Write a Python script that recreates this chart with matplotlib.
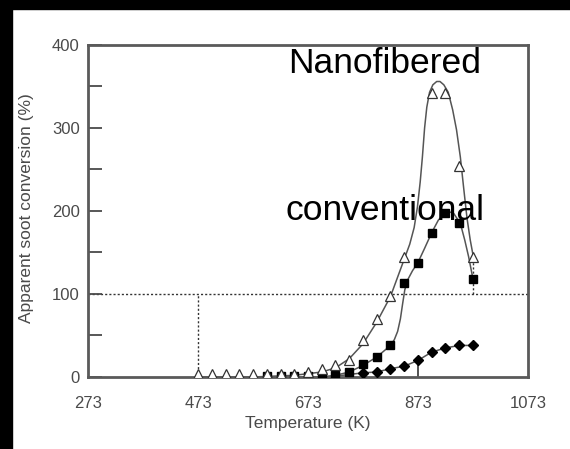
import matplotlib
matplotlib.use('Agg')
import matplotlib.pyplot as plt
from matplotlib.patches import Rectangle
from matplotlib.ticker import MultipleLocator

plt.rcParams['font.family'] = ['Liberation Sans', 'DejaVu Sans']

# --- dados ---
# nanofibered (triangulos abertos)
t_nano = [473, 498, 523, 548, 573, 598, 623, 648, 673, 698, 723, 748, 773, 798, 823, 848,
          898, 923, 948, 973]
y_nano = [3, 3, 3, 3, 3, 3, 3, 4, 6, 10, 14, 20, 45, 70, 97, 145,
          342, 342, 254, 145]
# curva ajustada
t_nano_fit = [473, 573, 648, 698, 723, 748, 773, 798, 823, 848, 858, 866, 872, 877, 881,
              885, 889, 894, 900, 907, 913, 920, 928, 936, 943, 950, 956, 962, 968, 975]
y_nano_fit = [0, 0, 2, 6, 11, 22, 40, 66, 97, 142, 160, 180, 205, 235, 265,
              300, 325, 343, 352, 356, 356, 352, 343, 322, 298, 265, 228, 192, 165, 140]

# conventional (quadrados cheios)
t_conv = [598, 623, 648, 673, 698, 723, 748, 773, 798, 823, 848, 873, 898, 923, 948, 973]
y_conv = [1, 1, 1, 1, 1, 2, 6, 16, 24, 39, 113, 137, 174, 197, 186, 118]
t_conv_fit = [598, 698, 723, 748, 773, 798, 823, 830, 836, 841, 845, 849, 855, 863, 873,
              885, 898, 910, 920, 930, 938, 945, 952, 958, 965, 973]
y_conv_fit = [0, 0, 2, 6, 14, 24, 38, 45, 55, 70, 88, 105, 118, 128, 138,
              155, 174, 189, 196, 199, 197, 190, 180, 165, 145, 118]

# losangos
t_diam = [773, 798, 823, 848, 873, 898, 923, 948, 973]
y_diam = [5, 6, 10, 13, 20, 30, 35, 38, 38]
t_diam_fit = [698, 723, 748, 773, 798, 823, 848, 873, 898, 923, 948, 973]
y_diam_fit = [0, 1, 3, 5, 6, 10, 13, 20, 30, 35, 38, 38]

x_ticks = [273, 473, 673, 873, 1073]
y_ticks = [0, 100, 200, 300, 400]

cinza = '#4a4a4a'
linha = '#555555'

fig = plt.figure(figsize=(5.7, 4.49), dpi=100)
ax = fig.add_axes([0.1544, 0.1604, 0.7719, 0.7394])

# curvas
ax.plot(t_nano_fit, y_nano_fit, color=linha, lw=1.1, zorder=2)
ax.plot(t_conv_fit, y_conv_fit, color=linha, lw=1.1, zorder=2)
ax.plot(t_diam_fit, y_diam_fit, color=linha, lw=1.1, zorder=2)

# linhas de referencia
ax.axhline(100, color='#333333', ls=(0, (1.5, 1.5)), lw=1, zorder=1)
ax.plot([473, 473], [0, 100], color='#333333', ls=(0, (1.5, 1.5)), lw=1, zorder=1)
ax.plot([973, 973], [100, 145], color='#333333', ls=(0, (1.5, 1.5)), lw=1, zorder=1)
ax.plot([873, 873], [0, 20], color='#333333', lw=1.2, zorder=1)

# marcadores
ax.plot(t_nano, y_nano, ls='none', marker='^', ms=7.5, mfc='white', mec='#333333',
        mew=0.9, zorder=4)
ax.plot(t_conv, y_conv, ls='none', marker='s', ms=6, color='black', zorder=3)
ax.plot(t_diam, y_diam, ls='none', marker='D', ms=5, color='black', zorder=3)

ax.set_xlim(273, 1073)
ax.set_ylim(0, 400)
ax.set_xticks(x_ticks)
ax.set_xticklabels([str(t) for t in x_ticks])
ax.set_yticks(y_ticks)
ax.yaxis.set_minor_locator(MultipleLocator(50))
ax.tick_params(axis='x', length=0, pad=14, labelsize=12, labelcolor=cinza)
ax.tick_params(axis='y', which='both', direction='in', length=10, width=1.3,
               color=cinza, labelsize=12, labelcolor=cinza, pad=6)
for s in ax.spines.values():
    s.set_color('#5a5a5a')
    s.set_linewidth(2)

ax.set_xlabel('Temperature (K)', fontsize=12.5, color=cinza, labelpad=3)
fig.text(0.047, 0.537, 'Apparent soot conversion (%)', rotation=90, fontsize=12.5,
         color=cinza, ha='center', va='center')

fig.text(0.674, 0.838, 'Nanofibered', fontsize=25.5, color='black',
         ha='center', va='baseline', zorder=10)
fig.text(0.676, 0.510, 'conventional', fontsize=25.5, color='black',
         ha='center', va='baseline', zorder=10)

# bordas pretas do recorte
fig.patches.append(Rectangle((0, 0), 12 / 570, 1, transform=fig.transFigure,
                             color='black', zorder=20))
fig.patches.append(Rectangle((0, 1 - 9 / 449), 1, 9 / 449, transform=fig.transFigure,
                             color='black', zorder=20))

fig.savefig('out.png', dpi=100)
